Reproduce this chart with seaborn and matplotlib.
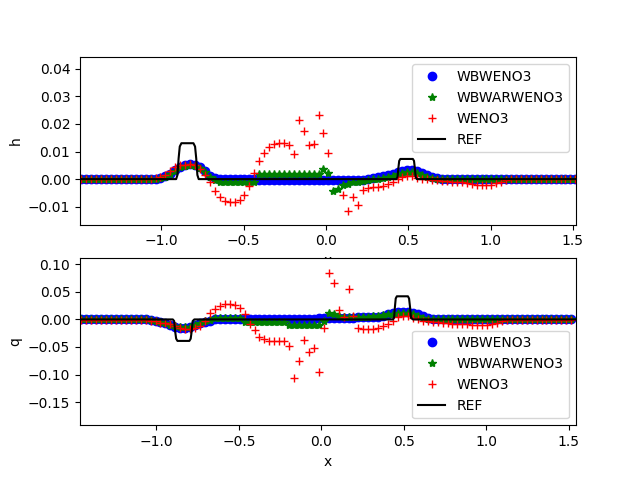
import numpy as np
import seaborn as sns
import matplotlib
matplotlib.use("Agg")
import matplotlib.pyplot as plt
from matplotlib.ticker import MultipleLocator

# cell centres of the 101-point grid
x = np.linspace(-1.485, 1.515, 101)
nan = np.nan

# ---- water height perturbation h ----
h_wbweno3 = ([0.0] * 16
             + [0.0005, 0.001, 0.002, 0.0033, 0.0045, 0.0051, 0.0053, 0.0052, 0.0044, 0.0028, 0.0012, 0.0004]
             + [0.0] * 8
             + [-0.0005] * 17
             + [-0.0003] * 5
             + [0.0, 0.0003, 0.0006, 0.001, 0.0014, 0.0019, 0.0025, 0.003, 0.0033, 0.0033, 0.003, 0.0023,
                0.0015, 0.0008, 0.0003]
             + [0.0] * 28)

h_wbwarweno3 = ([0.0] * 16
                + [0.0004, 0.0009, 0.0018, 0.0031, 0.0043, 0.0049, 0.0051, 0.0049, 0.004, 0.0024, 0.0008, -0.0002]
                + [-0.001] * 8
                + [0.0017] * 13
                + [0.0035, 0.0022, -0.0042, -0.0036, -0.0022, -0.0016, -0.0012, -0.0009, -0.0006, -0.0003, 0.0,
                   0.0002, 0.0005, 0.0008, 0.0012, 0.0017, 0.0022, 0.0026, 0.0026, 0.0022, 0.0015, 0.0008, 0.0003]
                + [0.0] * 29)

h_weno3 = ([0.0] * 15
           + [0.0003, 0.0008, 0.0015, 0.003, 0.0045, 0.0051, 0.0052, 0.0053, 0.0051, 0.0038,
              0.0015, -0.0009, -0.0042, -0.0066, -0.008, -0.0083, -0.0083, -0.0075, -0.0057, -0.0025,
              0.0023, 0.0067, 0.0096, 0.0115, 0.0127, 0.0131, 0.013, 0.0125, 0.009, 0.0214,
              0.0174, 0.0124, 0.0126, 0.0234, 0.0166, 0.0094, nan, nan, -0.0059, -0.0114,
              -0.0063, -0.0095, -0.0039, -0.0032, -0.003, -0.0029, -0.0024, -0.0018, -0.0009, 0.0001,
              0.0009, 0.0012, 0.0012, 0.0005, 0.0001, -0.0001, -0.0003, -0.0005, -0.0006, -0.0008,
              -0.0009, -0.001, -0.0012, -0.0015, -0.0019, -0.0022, -0.0022, -0.0022, -0.0021, -0.0015,
              -0.0009, -0.0003]
           + [0.0] * 14)

ref_x_h = [-1.55, -0.91, -0.902, -0.895, -0.888, -0.878, -0.805, -0.795, -0.788, -0.781, -0.773,
           0.428, 0.435, 0.44, 0.445, 0.452, 0.528, 0.535, 0.54, 0.545, 0.552, 1.55]
ref_h = [0.0, 0.0, 0.0015, 0.0075, 0.0118, 0.013, 0.013, 0.0118, 0.0075, 0.0015, 0.0,
         0.0, 0.0008, 0.004, 0.0066, 0.0073, 0.0073, 0.0066, 0.004, 0.0008, 0.0, 0.0]

# ---- discharge q ----
q_wbweno3 = ([0.0] * 15
             + [-0.001, -0.002, -0.004, -0.007, -0.01, -0.013, -0.015, -0.015, -0.014, -0.011, -0.007, -0.004, -0.002]
             + [0.001] * 13
             + [0.0] * 8
             + [0.003] * 8
             + [0.004] * 4
             + [0.005, 0.007, 0.009, 0.011, 0.013, 0.014, 0.014, 0.012, 0.009, 0.006, 0.003, 0.001]
             + [0.0] * 28)

q_wbwarweno3 = ([0.0] * 15
                + [-0.001, -0.002, -0.004, -0.007, -0.01, -0.012, -0.014, -0.014, -0.013, -0.01, -0.006, -0.003,
                   -0.001]
                + [0.003] * 6
                + [-0.005] * 9
                + [-0.011] * 7
                + [-0.003, 0.012, 0.009, 0.007, 0.005, 0.004, 0.004, 0.004, 0.004, 0.005, 0.006,
                   0.007, 0.008, 0.009, 0.01, 0.011, 0.012, 0.011, 0.009, 0.006, 0.003, 0.001]
                + [0.0] * 29)

q_weno3 = ([-0.001] * 15
           + [-0.002, -0.0036, -0.006, -0.007, -0.009, -0.012, -0.015, -0.0168, -0.0168, -0.015,
              -0.012, -0.003, 0.012, 0.019, 0.024, 0.028, 0.028, 0.027, 0.021, 0.01,
              -0.009, -0.0198, -0.031, -0.036, -0.039, -0.039, -0.039, -0.0385, -0.049, -0.106,
              -0.076, -0.038, -0.059, -0.051, -0.096, -0.015, 0.085, 0.067, 0.017, 0.005,
              0.055, 0.007, -0.016, -0.0175, -0.0175, -0.0175, -0.016, -0.012, -0.0078, -0.002,
              0.004, 0.006, 0.006, 0.003, 0.0, -0.002, -0.003, -0.004, -0.005, -0.006,
              -0.007, -0.008, -0.0085, -0.009, -0.009, -0.011, -0.011, -0.011, -0.011, -0.009,
              -0.006, -0.003, -0.001]
           + [-0.001] * 13)

ref_x_q = [-1.55, -0.9, -0.892, -0.886, -0.88, -0.872, -0.8, -0.792, -0.786, -0.78, -0.77,
           0.434, 0.441, 0.446, 0.451, 0.458, 0.525, 0.532, 0.538, 0.544, 0.555, 1.6]
ref_q = [0.0, 0.0, -0.003, -0.022, -0.035, -0.039, -0.039, -0.035, -0.022, -0.003, 0.0,
         0.0, 0.003, 0.022, 0.038, 0.042, 0.042, 0.038, 0.022, 0.003, 0.0, 0.0]

labels = ["WBWENO3", "WBWARWENO3", "WENO3", "REF"]


def draw_panel(ax, y_wb, y_wbwar, y_weno, ref_x, ref_y):
    sns.lineplot(x=x, y=y_wb, ax=ax, color="blue", marker="o", linestyle="none",
                 mec="blue", mew=1.0, estimator=None, sort=False, label=labels[0])
    sns.lineplot(x=x, y=y_wbwar, ax=ax, color="green", marker="*", linestyle="none",
                 mec="green", mew=1.0, estimator=None, sort=False, label=labels[1])
    sns.lineplot(x=x, y=y_weno, ax=ax, color="red", marker="+", linestyle="none",
                 mec="red", mew=1.0, estimator=None, sort=False, label=labels[2])
    sns.lineplot(x=ref_x, y=ref_y, ax=ax, color="black", linewidth=1.5,
                 estimator=None, sort=False, label=labels[3])


fig, (ax1, ax2) = plt.subplots(2, 1, figsize=(6.4, 4.78), dpi=100)

draw_panel(ax1, h_wbweno3, h_wbwarweno3, h_weno3, ref_x_h, ref_h)
ax1.set_xlim(-1.494, 1.519)
ax1.set_ylim(-0.0165, 0.0441)
ax1.yaxis.set_major_locator(MultipleLocator(0.01))
ax1.set_xlabel("x")
ax1.set_ylabel("h")
ax1.legend(loc="upper right")

draw_panel(ax2, q_wbweno3, q_wbwarweno3, q_weno3, ref_x_q, ref_q)
ax2.set_xlim(-1.463, 1.544)
ax2.set_ylim(-0.1924, 0.1113)
ax2.yaxis.set_major_locator(MultipleLocator(0.05))
ax2.set_xlabel("x")
ax2.set_ylabel("q")
ax2.legend(loc="lower right")

plt.savefig("out.png", dpi=100)
plt.close()
